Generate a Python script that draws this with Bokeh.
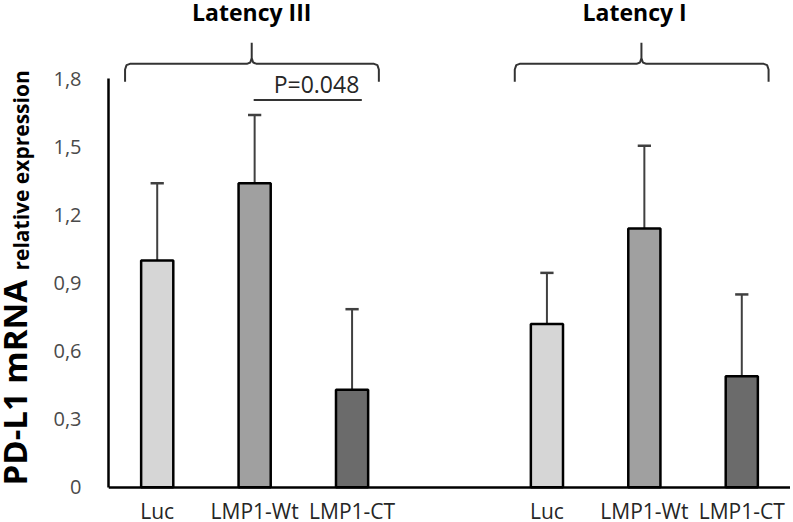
import math
from bokeh.plotting import figure
from bokeh.layouts import row
from bokeh.models import Range1d, FixedTicker, CustomJSTickFormatter
from bokeh.core.properties import value
from bokeh.embed import file_html
from bokeh.resources import INLINE

# ---------------- data ----------------
categories = ["Luc", "LMP1-Wt", "LMP1-CT"]
groups = ["Latency III", "Latency I"]
latency3_mean = [1.00, 1.34, 0.43]
latency3_sd = [0.34, 0.30, 0.355]
latency1_mean = [0.72, 1.14, 0.49]
latency1_sd = [0.225, 0.365, 0.36]
bar_colors = ["#d6d6d6", "#a0a0a0", "#6b6b6b"]
y_ticks = [0, 0.3, 0.6, 0.9, 1.2, 1.5, 1.8]
p_value_label = "P=0.048"
y_title_main = "PD-L1 mRNA"
y_title_sub = "relative expression"

FONT = "Open Sans"
W, H = 790, 520
SIDE_W = 50

# slot layout: group 1 at 0..2, empty slot at 3, group 2 at 4..6
group_starts = [0, 4]
means = [latency3_mean, latency1_mean]
sds = [latency3_sd, latency1_sd]

xs, tops, uppers, cols, lab_x, lab_t = [], [], [], [], [], []
for g, start in enumerate(group_starts):
    for i in range(len(categories)):
        xs.append(start + i)
        tops.append(means[g][i])
        uppers.append(means[g][i] + sds[g][i])
        cols.append(bar_colors[i])
        lab_x.append(start + i)
        lab_t.append(categories[i])

# ---------------- main plot ----------------
p = figure(width=W - SIDE_W, height=H,
           x_range=Range1d(-0.5, 6.5), y_range=Range1d(-0.146, 2.145),
           output_backend="svg", toolbar_location=None,
           min_border_left=108 - SIDE_W, min_border_right=0,
           min_border_top=0, min_border_bottom=0)
p.outline_line_color = None
p.grid.visible = False
p.background_fill_color = "white"
p.border_fill_color = "white"

# y axis
p.yaxis.ticker = FixedTicker(ticks=y_ticks)
p.yaxis.formatter = CustomJSTickFormatter(
    code="return tick == 0 ? '0' : tick.toFixed(1).replace('.', ',');")
p.yaxis.bounds = (0, 1.8)
p.yaxis.axis_line_width = 2.5
p.yaxis.axis_line_color = "black"
p.yaxis.major_tick_line_color = None
p.yaxis.minor_tick_line_color = None
p.yaxis.major_tick_out = 0
p.yaxis.major_tick_in = 0
p.yaxis.major_label_standoff = 27
p.yaxis.major_label_text_font = FONT
p.yaxis.major_label_text_font_size = "20px"
p.yaxis.major_label_text_color = "#4a4a4a"

# x axis: line fixed at y = 0, category names drawn as text below it
p.xaxis.fixed_location = 0
p.xaxis.ticker = FixedTicker(ticks=[])
p.xaxis.axis_line_width = 2.5
p.xaxis.axis_line_color = "black"
p.xaxis.major_tick_line_color = None
p.xaxis.minor_tick_line_color = None
p.xaxis.major_tick_out = 0
p.xaxis.major_tick_in = 0
p.xaxis.major_label_standoff = 0
p.xaxis.major_label_text_font_size = "0px"

p.text(x=lab_x, y=[-0.104] * len(lab_x), text=lab_t, text_font=value(FONT),
       text_font_size="21px", text_color="#262626",
       text_align="center", text_baseline="middle")

# error bars (upper only)
cap = 0.068
p.segment(x0=xs, y0=tops, x1=xs, y1=uppers, line_color="#404040", line_width=2)
p.segment(x0=[x - cap for x in xs], y0=uppers, x1=[x + cap for x in xs], y1=uppers,
          line_color="#404040", line_width=2.5)

# bars
p.vbar(x=xs, top=tops, bottom=0, width=0.33, fill_color=cols,
       line_color="black", line_width=2.5)

# group braces and titles
y_h, y_end, y_tip = 1.866, 1.787, 1.959
title_shift = [0.0, -0.07]
for g, start in enumerate(group_starts):
    c = start + 1
    left, right, tip = c - 1.33, c + 1.275, c - 0.03
    bx = [left, left, left + 0.015, left + 0.05,
          tip - 0.05, tip - 0.015, tip, tip,
          tip, tip + 0.015, tip + 0.05,
          right - 0.05, right - 0.015, right, right]
    by = [y_end, y_h - 0.025, y_h - 0.006, y_h,
          y_h, y_h + 0.006, y_h + 0.025, y_tip,
          y_h + 0.025, y_h + 0.006, y_h,
          y_h, y_h - 0.006, y_h - 0.025, y_end]
    p.line(bx, by, line_color="#333333", line_width=2)
    p.text(x=[tip + title_shift[g]], y=[2.094], text=[groups[g]], text_font=value(FONT),
           text_font_style="bold", text_font_size="23px", text_color="black",
           text_align="center", text_baseline="middle")

# significance
p.segment(x0=[0.99], y0=[1.707], x1=[2.10], y1=[1.707], line_color="#333333", line_width=2)
p.text(x=[1.635], y=[1.778], text=[p_value_label], text_font=value(FONT),
       text_font_size="23px", text_color="#262626", text_align="center",
       text_baseline="middle")

# ---------------- y title strip (two font sizes) ----------------
side = figure(width=SIDE_W, height=H, x_range=Range1d(0, SIDE_W), y_range=Range1d(0, H),
              output_backend="svg", toolbar_location=None,
              min_border_left=0, min_border_right=0, min_border_top=0, min_border_bottom=0)
side.axis.visible = False
side.grid.visible = False
side.outline_line_color = None
side.border_fill_color = "white"
side.text(x=[14], y=[H - 485], text=[y_title_main], angle=math.pi / 2,
          text_font=value(FONT), text_font_style="bold", text_font_size="33px",
          text_color="black", text_align="left", text_baseline="middle")
side.text(x=[20], y=[H - 270], text=[y_title_sub], angle=math.pi / 2,
          text_font=value(FONT), text_font_style="bold", text_font_size="21px",
          text_color="black", text_align="left", text_baseline="middle")

layout = row(side, p)
open("out.html", "w").write(file_html(layout, INLINE))
